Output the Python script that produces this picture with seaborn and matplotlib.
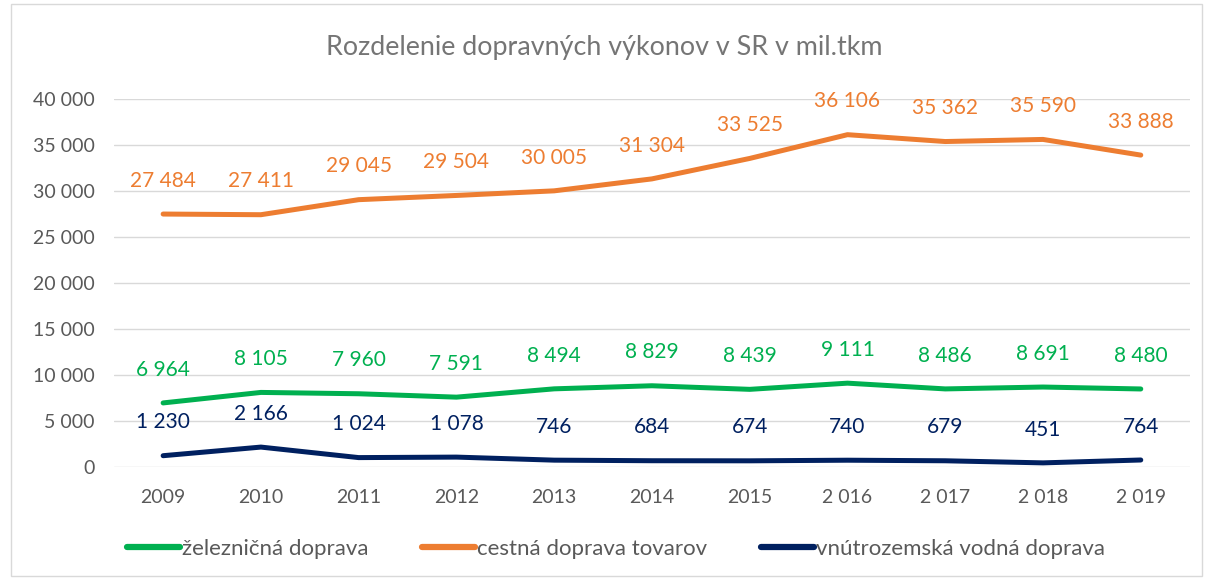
import matplotlib.pyplot as plt
import matplotlib.patches as patches
import pandas as pd
import seaborn as sns

# data
roky = ['2009', '2010', '2011', '2012', '2013', '2014', '2015',
        '2 016', '2 017', '2 018', '2 019']
zeleznicna = [6964, 8105, 7960, 7591, 8494, 8829, 8439, 9111, 8486, 8691, 8480]
cestna = [27484, 27411, 29045, 29504, 30005, 31304, 33525, 36106, 35362, 35590, 33888]
vodna = [1230, 2166, 1024, 1078, 746, 684, 674, 740, 679, 451, 764]

nazvy = ['železničná doprava', 'cestná doprava tovarov', 'vnútrozemská vodná doprava']
farby = ['#00B050', '#ED7D31', '#002060']

df = pd.DataFrame({
    'rok': roky * 3,
    'hodnota': zeleznicna + cestna + vodna,
    'druh': [nazvy[0]] * 11 + [nazvy[1]] * 11 + [nazvy[2]] * 11,
})

sns.set_style('white')
plt.rcParams['font.family'] = ['Lato', 'DejaVu Sans']

def fmt(v):
    return f'{v:,}'.replace(',', ' ')

fig = plt.figure(figsize=(12.09, 5.78), dpi=100)
ax = fig.add_axes([0.0945, 0.192, 0.8895, 0.637])

sns.lineplot(data=df, x='rok', y='hodnota', hue='druh', hue_order=nazvy,
             palette=farby, linewidth=3.6, sort=False, ax=ax, legend=False)

# data labels
for hodnoty, farba in zip([zeleznicna, cestna, vodna], farby):
    for r, v in zip(roky, hodnoty):
        ax.annotate(fmt(v), (r, v), xytext=(0, 24), textcoords='offset points',
                    ha='center', va='center', fontsize=15, color=farba)

ax.set_ylim(0, 40000)
ax.set_xlim(-0.5, 10.5)
ax.set_yticks(range(0, 40001, 5000))
ax.set_yticklabels([fmt(v) for v in range(0, 40001, 5000)])
ax.grid(axis='y', color='#D9D9D9', linewidth=1)
ax.set_axisbelow(True)
for s in ax.spines.values():
    s.set_visible(False)
ax.tick_params(axis='both', length=0, labelsize=14, labelcolor='#595959')
ax.tick_params(axis='y', pad=14)
ax.tick_params(axis='x', pad=16)
ax.set_xlabel('')
ax.set_ylabel('')

fig.suptitle('Rozdelenie dopravných výkonov v SR v mil.tkm', y=0.94,
             fontsize=19.4, color='#757575')

handles = [plt.Line2D([], [], color=f, linewidth=4.5, solid_capstyle='round') for f in farby]
fig.legend(handles, nazvy, loc='center', bbox_to_anchor=(0.5095, 0.05), ncol=3,
           frameon=False, fontsize=16, labelcolor='#595959', handlelength=2.4,
           handletextpad=0.1, columnspacing=2.4)

fig.patches.append(patches.Rectangle((0.009, 0.003), 0.985, 0.99, transform=fig.transFigure,
                                     fill=False, edgecolor='#D9D9D9', linewidth=1))

fig.savefig('out.png', dpi=100)
